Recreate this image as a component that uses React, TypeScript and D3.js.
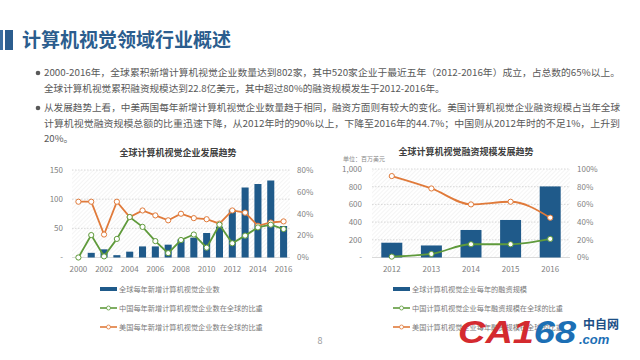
import React from 'react';
import * as d3 from 'd3';

const years1 = ['2000','2001','2002','2003','2004','2005','2006','2007','2008','2009','2010','2011','2012','2013','2014','2015','2016'];
const globalNew = [0, 8, 14, 4, 10, 19, 19, 22, 31, 34, 42, 53, 82, 120, 126, 132, 54];
const chinaShare1 = [0, 20.5, 1, 17, 37, 28, 15, 4, 16, 21, 9, 30, 13, 20, 27.5, 30, 26];
const usShare1 = [51, 51, 21, 51, 37, 43, 38.5, 34, 40, 36, 35, 31, 43, 41, 29, 32, 33];
const leftTicks1 = [0, 50, 100, 150];
const rightTicks1 = [0, 20, 40, 60, 80];

const years2 = ['2012','2013','2014','2015','2016'];
const funding = [167, 136, 311, 424, 803];
const chinaShare2 = [1, 4, 15, 15, 21];
const usShare2 = [92, 78, 60, 63, 45];
const leftTicks2 = [0, 200, 400, 600, 800, 1000];
const rightTicks2 = [0, 20, 40, 60, 80, 100];

const pageTitle = '计算机视觉领域行业概述';
const paragraphLines = [
  '2000-2016年，全球累积新增计算机视觉企业数量达到802家，其中520家企业于最近五年（2012-2016年）成立，占总数的65%以上。',
  '全球计算机视觉累积融资规模达到22.8亿美元，其中超过80%的融资规模发生于2012-2016年。',
  '从发展趋势上看，中美两国每年新增计算机视觉企业数量趋于相同，融资方面则有较大的变化。美国计算机视觉企业融资规模占当年全球',
  '计算机视觉融资规模总额的比重迅速下降，从2012年时的90%以上，下降至2016年的44.7%；中国则从2012年时的不足1%，上升到',
  '20%。',
];
const title1 = '全球计算机视觉企业发展趋势';
const title2 = '全球计算机视觉融资规模发展趋势';
const legend1 = ['全球每年新增计算机视觉企业数', '中国每年新增计算机视觉企业数在全球的比重', '美国每年新增计算机视觉企业数在全球的比重'];
const legend2 = ['全球计算机视觉企业每年的融资规模', '中国计算机视觉企业每年融资规模在全球的比重', '美国计算机视觉企业每年融资规模在全球的比重'];

const BLUE = '#1f5a8a';
const GREEN = '#5f9a3b';
const ORANGE = '#e07a3a';
const AXIS = '#7f7f7f';
const FONT = '"Noto Sans CJK SC", "Noto Sans", sans-serif';

function Chart(props: {
  cats: string[]; bars: number[]; cn: number[]; us: number[];
  x0: number; x1: number; yTop: number; yBot: number;
  leftMax: number; rightMax: number; leftTicks: number[]; rightTicks: number[];
  leftFmt: (v: number) => string; labelEvery: number; pad: number;
  curve: any; leftLabelX: number; rightLabelX: number; gridTicks: number[];
}) {
  const p = props;
  const x = d3.scaleBand<string>().domain(p.cats).range([p.x0, p.x1]).paddingInner(p.pad).paddingOuter(p.pad / 2);
  const yL = d3.scaleLinear().domain([0, p.leftMax]).range([p.yBot, p.yTop]);
  const yR = d3.scaleLinear().domain([0, p.rightMax]).range([p.yBot, p.yTop]);
  const cx = (c: string) => (x(c) as number) + x.bandwidth() / 2;
  const line = d3.line<number>().x((_, i) => cx(p.cats[i])).y(v => yR(v)).curve(p.curve);
  return (
    <g>
      <rect x={p.x0} y={p.yTop} width={p.x1 - p.x0} height={p.yBot - p.yTop} fill="url(#hatch)" />
      {p.gridTicks.map(t => (
        <line key={'g' + t} x1={p.x0} x2={p.x1} y1={yL(t)} y2={yL(t)} stroke="#c8c8c8" strokeWidth={0.7} strokeDasharray="1.5,1.5" />
      ))}
      <line x1={p.x0} x2={p.x1} y1={p.yBot} y2={p.yBot} stroke="#d0d0d0" strokeWidth={0.8} />
      {p.leftTicks.map(t => (
        <text key={'l' + t} x={p.leftLabelX} y={yL(t)} dy="0.35em" textAnchor="end" fontSize={8} fill={AXIS} fontFamily={FONT}>{t === 0 ? '-' : p.leftFmt(t)}</text>
      ))}
      {p.rightTicks.map(t => (
        <text key={'r' + t} x={p.rightLabelX} y={yR(t)} dy="0.35em" textAnchor="start" fontSize={8} fill={AXIS} fontFamily={FONT}>{t + '%'}</text>
      ))}
      {p.cats.map((c, i) => i % p.labelEvery === 0 ? (
        <text key={'x' + c} x={cx(c)} y={p.yBot + 12} dy="0.35em" textAnchor="middle" fontSize={8} fill={AXIS} fontFamily={FONT}>{c}</text>
      ) : null)}
      {p.bars.map((v, i) => (
        <rect key={'b' + i} x={x(p.cats[i])} y={yL(v)} width={x.bandwidth()} height={p.yBot - yL(v)} fill={BLUE} />
      ))}
      <path d={line(p.us) as string} fill="none" stroke={ORANGE} strokeWidth={1.8} />
      <path d={line(p.cn) as string} fill="none" stroke={GREEN} strokeWidth={1.8} />
      {p.us.map((v, i) => (
        <circle key={'u' + i} cx={cx(p.cats[i])} cy={yR(v)} r={2.6} fill="#fff" stroke={ORANGE} strokeWidth={1} />
      ))}
      {p.cn.map((v, i) => (
        <circle key={'c' + i} cx={cx(p.cats[i])} cy={yR(v)} r={2.6} fill="#fff" stroke={GREEN} strokeWidth={1} />
      ))}
    </g>
  );
}

function Legend(props: { x: number; y: number; labels: string[] }) {
  const { x, y, labels } = props;
  const colors = [BLUE, GREEN, ORANGE];
  return (
    <g>
      {labels.map((l, i) => {
        const yy = y + i * 19;
        return (
          <g key={l}>
            {i === 0 ? (
              <rect x={x} y={yy - 2} width={17} height={4} fill={BLUE} />
            ) : (
              <g>
                <line x1={x} x2={x + 17} y1={yy} y2={yy} stroke={colors[i]} strokeWidth={1.6} />
                <circle cx={x + 8.5} cy={yy} r={2} fill="#fff" stroke={colors[i]} strokeWidth={0.8} />
              </g>
            )}
            <text x={x + 19} y={yy} dy="0.35em" fontSize={7.2} fill="#7a7a7a" fontFamily={FONT}>{l}</text>
          </g>
        );
      })}
    </g>
  );
}

export default function App() {
  return (
    <svg width={640} height={360} style={{ position: 'absolute', left: 0, top: 0, background: '#fff' }} fontFamily={FONT}>
      <defs>
        <pattern id="hatch" width={3} height={3} patternUnits="userSpaceOnUse" patternTransform="rotate(45)">
          <line x1={0} y1={0} x2={0} y2={3} stroke="#e4e4e4" strokeWidth={0.8} />
        </pattern>
      </defs>
      <rect x={0} y={0} width={640} height={360} fill="#fff" />
      <rect x={0} y={30} width={3} height={20} fill="#3b6ea0" />
      <rect x={5} y={30} width={8} height={20} fill="#2b5d8e" />
      <text x={22} y={47} fontSize={19} fontWeight="bold" fill="#2b5d8e" fontFamily={FONT}>{pageTitle}</text>

      {[73, 89, 108, 124, 139].map((y, i) => (
        <text key={i} x={44} y={y} dy="0.35em" fontSize={9.6} fill="#595959" fontFamily={FONT}
          textLength={i === 0 || i === 2 || i === 3 ? 576 : undefined} lengthAdjust="spacingAndGlyphs">{paragraphLines[i]}</text>
      ))}
      <circle cx={38} cy={73} r={2.3} fill="#595959" />
      <circle cx={38} cy={108} r={2.3} fill="#595959" />

      <text x={178} y={153} dy="0.35em" textAnchor="middle" fontSize={9} fontWeight="bold" fill="#404040">{title1}</text>
      <text x={466} y={152} dy="0.35em" textAnchor="middle" fontSize={9} fontWeight="bold" fill="#404040">{title2}</text>
      <text x={343} y={159} dy="0.35em" fontSize={6} fill="#8a8a8a">单位：百万美元</text>

      <Chart cats={years1} bars={globalNew} cn={chinaShare1} us={usShare1}
        x0={72} x1={290} yTop={170} yBot={257.5} leftMax={150} rightMax={80}
        leftTicks={leftTicks1} rightTicks={rightTicks1} leftFmt={v => String(v)} labelEvery={2} pad={0.45}
        curve={d3.curveLinear} leftLabelX={63} rightLabelX={297} gridTicks={[50, 100, 150]} />

      <Chart cats={years2} bars={funding} cn={chinaShare2} us={usShare2}
        x0={372} x1={570} yTop={169} yBot={257.5} leftMax={1000} rightMax={100}
        leftTicks={leftTicks2} rightTicks={rightTicks2} leftFmt={v => d3.format(',')(v)} labelEvery={1} pad={0.47}
        curve={d3.curveMonotoneX} leftLabelX={362} rightLabelX={577} gridTicks={[200, 400, 600, 800, 1000]} />

      <Legend x={100} y={289} labels={legend1} />
      <Legend x={393} y={289} labels={legend2} />

      <text x={320} y={344} textAnchor="middle" fontSize={9} fill="#9a9a9a">8</text>

      <text x={458} y={343} fontSize={31} fontStyle="italic" fontWeight="bold" fontFamily='"Liberation Sans", Arial, sans-serif'
        textLength={118} lengthAdjust="spacingAndGlyphs">
        <tspan fill="#d42a2f">CA1</tspan><tspan fill="#1c6fb5">68</tspan>
      </text>
      <text x={579} y={344} fontSize={13} fontStyle="italic" fontWeight="bold" fill="#1c6fb5" fontFamily='"Liberation Sans", Arial, sans-serif'>.com</text>
      <text x={583} y={329} fontSize={12} fill="#1c4f86" fontFamily={FONT} fontWeight="bold">中自网</text>
    </svg>
  );
}
